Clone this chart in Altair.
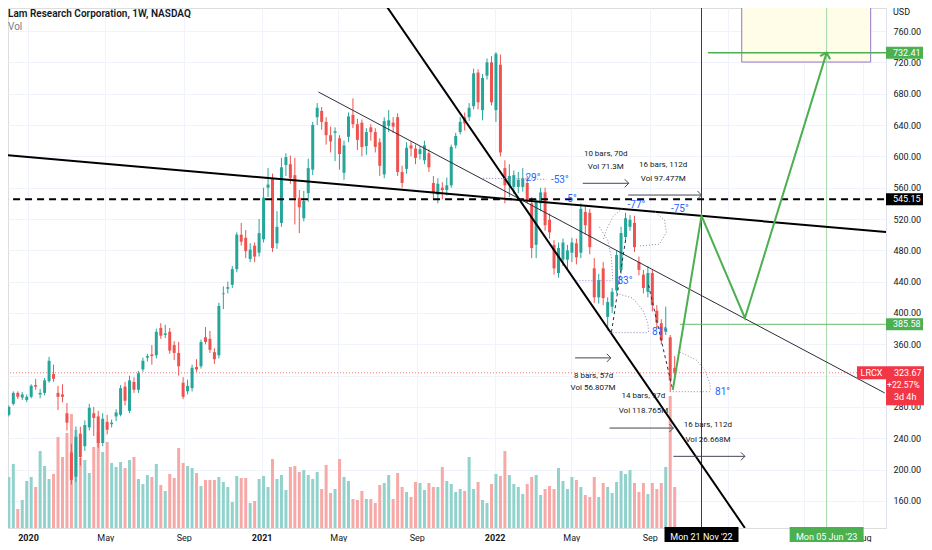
import altair as alt
import pandas as pd

# ---------------- values ----------------
FIRST_WEEK = "2019-11-18"
opens = [265,266,270,284,298,292,289,293,308,296,
         298,313,322,298,296,272,222,191,246,230,
         254,272,268,234,261,258,268,270,306,275,
         312,302,328,343,347,346,381,372,376,359,
         349,311,300,304,331,332,369,367,350,346,
         424,431,436,456,500,496,469,486,477,494,
         560,571,489,515,589,590,576,547,521,553,
         583,650,658,644,627,630,623,579,625,653,
         641,643,613,637,631,618,577,639,643,650,
         580,584,614,610,603,595,604,566,551,560,
         557,563,614,631,650,650,664,707,659,703,
         720,659,717,585,563,561,561,561,566,540,
         487,540,554,519,487,451,468,468,477,489,
         477,529,528,457,420,457,395,408,429,455,
         497,510,515,465,449,427,451,403,387,376,
         369,330]
highs = [273,272,282,300,300,299,296,309,316,303,
         317,344,334,307,309,285,233,255,255,263,
         284,280,275,272,270,264,277,308,312,320,
         318,326,343,348,359,380,387,385,381,364,
         363,318,315,334,341,366,382,377,355,413,
         434,440,460,503,515,506,489,490,520,560,
         585,578,530,598,604,601,598,557,556,597,
         644,668,663,650,638,637,627,620,656,674,
         648,647,636,641,636,623,650,659,650,655,
         588,618,619,615,613,620,609,575,572,567,
         573,615,630,650,656,668,712,711,705,725,
         728,733,730,595,590,582,580,585,575,548,
         546,560,560,527,493,490,495,487,496,495,
         540,536,533,470,450,465,420,432,480,510,
         528,525,524,472,455,460,455,410,392,408,
         372,345]
lows = [262,263,268,282,290,289,286,291,302,291,
        295,311,312,276,286,250,181,184,205,224,
        250,243,228,230,245,254,262,268,282,272,
        298,298,325,338,334,342,367,368,348,340,
        320,290,296,300,325,329,360,349,335,342,
        405,425,432,452,486,470,465,465,472,490,
        548,478,482,510,575,565,513,502,517,542,
        576,640,634,615,605,594,583,570,618,636,
        608,600,602,620,605,575,572,631,630,575,
        560,578,600,590,596,590,580,545,540,545,
        550,560,610,628,633,645,660,660,646,698,
        665,644,600,540,548,552,553,555,540,470,
        470,530,505,495,449,445,460,455,465,462,
        470,500,475,413,412,410,378,400,425,450,
        490,505,478,448,425,420,402,380,360,372,
        299,318]
closes = [270,270,280,298,293,296,293,307,306,298,
          314,339,316,293,293,260,187,242,216,257,
          279,266,234,265,251,260,273,304,288,314,
          302,323,339,345,345,376,371,374,352,349,
          332,293,307,330,328,363,363,353,341,409,
          425,433,456,500,491,479,481,472,502,547,
          564,483,510,586,599,572,547,535,543,585,
          640,662,644,627,619,632,603,614,651,641,
          621,612,631,631,612,588,645,646,638,580,
          566,611,610,598,609,614,586,553,565,557,
          563,612,626,644,642,662,706,669,700,720,
          669,731,605,563,575,576,570,572,544,483,
          542,554,512,503,457,483,490,480,490,471,
          533,512,484,420,442,419,414,427,474,502,
          521,519,484,455,432,451,410,388,365,380,
          314,323.67]
volumes_m = [3.5,4.4,5.1,6.4,1.9,2.8,4.7,5.1,4.1,7.7,
             6.2,4.9,5.4,9.1,7.1,9.5,11.4,9.8,7.0,6.8,
             5.5,8.1,9.6,7.6,8.6,6.5,6.1,6.6,6.0,6.8,
             7.1,4.9,4.4,5.3,5.1,6.4,4.3,3.7,5.4,5.0,
             8.0,6.5,6.2,6.0,5.5,4.2,4.8,4.8,4.8,5.1,
             4.6,4.1,2.6,5.2,5.0,5.0,2.5,2.7,4.9,5.2,
             4.1,6.9,4.9,5.3,3.8,6.1,6.2,5.6,5.8,5.3,
             4.9,5.6,3.9,6.3,3.5,3.9,6.9,5.1,4.7,2.9,
             2.8,3.7,2.9,2.9,2.5,4.3,4.5,5.3,2.9,5.5,
             4.1,3.6,3.1,4.6,4.5,3.8,4.5,4.1,4.1,6.1,
             4.7,4.4,3.6,3.9,3.7,7.1,3.9,4.6,2.8,2.5,
             4.4,5.4,5.2,7.7,5.3,4.4,4.1,3.4,4.4,5.1,
             5.3,3.3,3.9,4.2,3.9,6.0,4.7,3.9,5.1,4.8,
             4.1,3.3,3.1,5.1,3.1,4.5,4.1,3.5,4.6,5.7,
             5.4,5.8,4.5,3.6,4.5,3.4,4.5,3.9,4.5,6.1,
             13.2,4.1]

LAST_PRICE = 323.67
LEVEL_545 = 545.15
TARGET_HIGH = 732.41
TARGET_LOW = 385.58
price_ticks = [160, 200, 240, 280, 320, 360, 400, 440, 480, 520, 560, 600, 640, 680, 720, 760]
date_ticks = [(2020, 1), (2020, 5), (2020, 9), (2021, 1), (2021, 5), (2021, 9),
              (2022, 1), (2022, 5), (2022, 9), (2023, 1), (2023, 5), (2023, 8)]

# drawn trend lines (date, price)
steep_line = [("2021-07-09", 799.6), ("2023-01-28", 125.5)]
flat_line = [("2019-11-18", 602.3), ("2023-09-06", 503.4)]
thin_line = [("2021-03-31", 682.1), ("2023-09-04", 297.9)]
green_path = [("2022-10-07", 301.7), ("2022-11-21", 524.0), ("2023-01-28", 393.6), ("2023-06-05", TARGET_HIGH)]
target_box = {"date": "2023-01-23", "date2": "2023-08-13", "price": 720.4, "price2": 850.0}

dotted_gray = {
    "arcA": [("2022-10-18", 350.2), ("2022-11-13", 340.0), ("2022-11-26", 327.2), ("2022-12-04", 310.6), ("2022-12-05", 300.4)],
    "baseA": [("2022-10-07", 299.5), ("2022-12-05", 299.5)],
    "arcD": [("2022-07-20", 533.7), ("2022-07-05", 522.9), ("2022-06-25", 506.0), ("2022-06-20", 493.2)],
    "arcE": [("2022-09-06", 531.5), ("2022-09-24", 518.7), ("2022-09-27", 502.9), ("2022-09-16", 487.8), ("2022-08-16", 485.6)],
}
dotted_purple = {
    "arcB": [("2022-07-11", 425.1), ("2022-08-05", 419.1), ("2022-08-21", 403.8), ("2022-08-29", 387.2), ("2022-08-30", 376.1)],
    "baseB": [("2022-06-30", 374.9), ("2022-08-30", 374.9)],
    "arcC": [("2022-06-14", 509.8), ("2022-06-27", 493.2), ("2022-07-03", 470.2), ("2022-07-05", 442.1)],
    "baseC": [("2022-05-09", 441.2), ("2022-07-05", 441.2)],
    "base29": [("2021-12-14", 572.0), ("2022-03-23", 570.7)],
}
dashed_dark = {
    "ang81": [("2022-08-30", 435.7), ("2022-10-07", 301.7)],
    "ang83": [("2022-07-03", 375.8), ("2022-07-25", 493.2)],
}

angle_labels = [("2022-03-02", 572.0, "29°"), ("2022-04-13", 569.8, "-53°"), ("2022-04-30", 545.5, "-5°"),
                ("2022-08-11", 537.9, "-77°"), ("2022-10-18", 532.8, "-75°"), ("2022-07-24", 441.2, "83°"),
                ("2022-09-16", 375.4, "81°"), ("2022-12-24", 299.5, "81°")]
range_labels = [("2022-06-24", 603.0, "10 bars, 70d"), ("2022-06-24", 586.4, "Vol 71.3M"),
                ("2022-09-22", 588.9, "16 bars, 112d"), ("2022-09-22", 571.1, "Vol 97.477M"),
                ("2022-06-05", 320.0, "8 bars, 57d"), ("2022-06-04", 304.6, "Vol 56.807M"),
                ("2022-08-22", 294.0, "14 bars, 97d"), ("2022-08-22", 274.9, "Vol 118.765M"),
                ("2022-12-01", 257.0, "16 bars, 112d"), ("2022-12-01", 238.3, "Vol 26.668M")]
range_arrows = [("2022-05-19", "2022-07-30", 565.6), ("2022-07-29", "2022-11-21", 550.6),
                ("2022-05-07", "2022-07-02", 342.7), ("2022-06-30", "2022-10-08", 253.1),
                ("2022-10-08", "2023-01-28", 217.0)]
price_flags = [(TARGET_HIGH, "732.41", "#4caf50"), (LEVEL_545, "545.15", "#000000"), (TARGET_LOW, "385.58", "#4caf50")]
date_flags = [("2022-11-21", "Mon 21 Nov '22", "#000000"), ("2023-06-05", "Mon 05 Jun '23", "#4caf50")]
last_box_lines = [("323.67", 0, 8, 9), ("+22.57%", 12.5, 1, 8.6), ("3d 4h", 24.5, 8, 9)]

# ---------------- frames ----------------
week_dates = pd.date_range(FIRST_WEEK, periods=len(opens), freq="7D").strftime("%Y-%m-%d")
candles = pd.DataFrame(dict(date=week_dates, open=opens, high=highs, low=lows, close=closes, vol=volumes_m))
up = candles["close"] >= candles["open"]
candles["c"] = up.map({True: "#26a69a", False: "#ef5350"})
candles["vc"] = up.map({True: "#92d2cc", False: "#f7a9a7"})


def path_frame(groups):
    rows = []
    for name, pts in groups.items():
        for k, (d, p) in enumerate(pts):
            rows.append({"g": name, "k": k, "date": d, "price": p})
    return pd.DataFrame(rows)


W, H = 878, 520
FONT = "Roboto"
INK = "#131722"

x_scale = alt.Scale(type="utc", padding=0, nice=False,
                    domain=[alt.DateTime(year=2019, month=11, date=30, hours=16, utc=True),
                            alt.DateTime(year=2023, month=9, date=6, utc=True)])
y_scale = alt.Scale(domain=[125.5, 789.4], nice=False, zero=False, padding=0)
v_scale = alt.Scale(domain=[0, 52], nice=False, zero=True, padding=0)

x_axis = alt.Axis(
    values=[alt.DateTime(year=y, month=m, date=1, utc=True) for y, m in date_ticks],
    labelExpr="(utcFormat(datum.value, '%Y-%m') == '2023-01' || utcFormat(datum.value, '%Y-%m') == '2023-05') ? '' : (utcmonth(datum.value) == 0 ? utcFormat(datum.value, '%Y') : utcFormat(datum.value, '%b'))",
    labelFontWeight={"condition": {"test": "utcmonth(datum.value) == 0", "value": "bold"}, "value": "normal"},
    grid=True, gridColor="#f0f3fa", ticks=False, domain=False, labelFontSize=9, labelColor=INK,
    labelFont=FONT, labelPadding=5, labelOverlap=False, labelFlush=False, title=None, zindex=0)
y_axis = alt.Axis(orient="right", values=price_ticks, format=".2f",
                  labelExpr="datum.value == 320 ? '' : format(datum.value, '.2f')",
                  grid=True, gridColor="#f0f3fa",
                  ticks=False, domain=True, domainColor="#e0e3eb", labelFontSize=9, labelColor=INK,
                  labelFont=FONT, labelPadding=7, title=None, zindex=0)


def xe(f="date"):
    return alt.X(f"{f}:T", scale=x_scale, axis=x_axis, title=None)


def ye(f="price"):
    return alt.Y(f"{f}:Q", scale=y_scale, axis=y_axis, title=None)


def hline(price, d1, d2, **kw):
    df = pd.DataFrame({"date": [d1], "date2": [d2], "price": [price]})
    return alt.Chart(df).mark_rule(clip=True, **kw).encode(x=xe(), x2=alt.X2("date2"), y=ye())


def vline(d, **kw):
    return alt.Chart(pd.DataFrame({"date": [d]})).mark_rule(**kw).encode(x=xe())


def seg_line(pts, **kw):
    df = pd.DataFrame(pts, columns=["date", "price"])
    return alt.Chart(df).mark_line(clip=True, **kw).encode(x=xe(), y=ye())


def paths(groups, **kw):
    return alt.Chart(path_frame(groups)).mark_line(clip=True, **kw).encode(
        x=xe(), y=ye(), detail="g:N", order="k:Q")


layers = []
layers.append(alt.Chart(pd.DataFrame([target_box])).mark_rect(
    fill="#fffde7", stroke="#9575cd", strokeWidth=1, clip=True).encode(
    x=xe(), x2=alt.X2("date2"), y=ye(), y2=alt.Y2("price2")))
layers.append(hline(LAST_PRICE, "2019-11-01", "2023-10-01", color="#ef5350", strokeDash=[1, 2], strokeWidth=1, opacity=0.8))
layers.append(vline("2022-11-21", color="#3a3d45", strokeWidth=1))
layers.append(vline("2023-06-05", color="#a5d6a7", strokeWidth=1))
layers.append(hline(TARGET_HIGH, "2022-12-01", "2023-10-01", color="#4caf50", strokeWidth=1.5))
layers.append(hline(TARGET_LOW, "2022-10-18", "2023-10-01", color="#66bb6a", strokeWidth=1))

base = alt.Chart(candles)
layers.append(base.mark_rule(strokeWidth=1).encode(x=xe(), y=ye("low"), y2=alt.Y2("high"),
                                                    color=alt.Color("c:N", scale=None)))
layers.append(base.mark_bar(size=3).encode(x=xe(), y=ye("open"), y2=alt.Y2("close"),
                                           color=alt.Color("c:N", scale=None)))

layers.append(hline(LEVEL_545, "2019-11-01", "2023-10-01", color="#000000", strokeDash=[7, 5], strokeWidth=2))
layers.append(seg_line(flat_line, color="#000000", strokeWidth=2))
layers.append(seg_line(thin_line, color="#2a2e39", strokeWidth=1))
layers.append(seg_line(steep_line, color="#000000", strokeWidth=2))

layers.append(paths(dotted_gray, color="#8a8d97", strokeWidth=1, strokeDash=[1, 2]))
layers.append(paths(dotted_purple, color="#8e7cc3", strokeWidth=1, strokeDash=[1, 2]))
layers.append(paths(dashed_dark, color="#2a2e39", strokeWidth=1, strokeDash=[3, 3]))

layers.append(seg_line(green_path, color="#4caf50", strokeWidth=2))
layers.append(alt.Chart(pd.DataFrame({"date": ["2023-06-05"], "price": [TARGET_HIGH]})).mark_point(
    shape="M-1,-1L0,0L-1,1", filled=False, size=110, strokeWidth=2, color="#4caf50", angle=287, opacity=1).encode(
    x=xe(), y=ye()))

arrows = pd.DataFrame(range_arrows, columns=["date", "date2", "price"])
layers.append(alt.Chart(arrows).mark_rule(color="#434651", strokeWidth=1).encode(
    x=xe(), x2=alt.X2("date2"), y=ye()))
layers.append(alt.Chart(arrows).mark_point(
    shape="M-1,-1L0,0L-1,1", filled=False, size=64, strokeWidth=1, color="#434651", opacity=1).encode(
    x=xe("date2"), y=ye()))

layers.append(alt.Chart(pd.DataFrame(range_labels, columns=["date", "price", "t"])).mark_text(
    font=FONT, fontSize=8, color=INK, align="center", baseline="middle").encode(x=xe(), y=ye(), text="t:N"))
layers.append(alt.Chart(pd.DataFrame(angle_labels, columns=["date", "price", "t"])).mark_text(
    font=FONT, fontSize=10, color="#2962ff", align="center", baseline="middle").encode(x=xe(), y=ye(), text="t:N"))

# price-scale flags
flags = pd.DataFrame(price_flags, columns=["price", "t", "bg"])
layers.append(alt.Chart(flags).mark_bar(orient="horizontal", size=12).encode(
    x=alt.value(W), x2=alt.value(W + 37), y=ye(), color=alt.Color("bg:N", scale=None)))
layers.append(alt.Chart(flags).mark_text(font=FONT, fontSize=9, color="#ffffff", align="left", baseline="middle").encode(
    x=alt.value(W + 7), y=ye(), text="t:N"))

last_df = pd.DataFrame({"price": [LAST_PRICE]})
layers.append(alt.Chart(last_df).mark_bar(orient="horizontal", size=13, color="#f23645").encode(
    x=alt.value(W - 29), x2=alt.value(W), y=ye()))
layers.append(alt.Chart(last_df).mark_bar(orient="horizontal", size=39, yOffset=13, color="#f23645").encode(
    x=alt.value(W), x2=alt.value(W + 44), y=ye()))
layers.append(alt.Chart(last_df).mark_text(font=FONT, fontSize=9, color="#ffffff", align="center", baseline="middle").encode(
    x=alt.value(W - 14.5), y=ye(), text=alt.value("LRCX")))
for txt, off, dx, fs in last_box_lines:
    layers.append(alt.Chart(last_df).mark_text(font=FONT, fontSize=fs, color="#ffffff", align="left",
                                                baseline="middle", dy=off).encode(
        x=alt.value(W + dx), y=ye(), text=alt.value(txt)))

# time-scale flags
dflags = pd.DataFrame(date_flags, columns=["date", "t", "bg"])
layers.append(alt.Chart(dflags).mark_bar(size=74).encode(
    x=xe(), y=alt.value(H - 1), y2=alt.value(H + 19), color=alt.Color("bg:N", scale=None)))
layers.append(alt.Chart(dflags).mark_text(font=FONT, fontSize=9, color="#ffffff", align="center", baseline="middle").encode(
    x=xe(), y=alt.value(H + 9), text="t:N"))

# header
hdr = pd.DataFrame({"t": ["Lam Research Corporation, 1W, NASDAQ"]})
layers.append(alt.Chart(hdr).mark_text(font=FONT, fontSize=10, fontWeight=600, color=INK, align="left",
                                       baseline="alphabetic").encode(x=alt.value(0), y=alt.value(9), text="t:N"))
layers.append(alt.Chart(hdr).mark_text(font=FONT, fontSize=10, color="#787b86", align="left",
                                       baseline="alphabetic").encode(x=alt.value(0), y=alt.value(21.5), text=alt.value("Vol")))
layers.append(alt.Chart(hdr).mark_text(font=FONT, fontSize=9, color=INK, align="left",
                                       baseline="top").encode(x=alt.value(W + 7), y=alt.value(0), text=alt.value("USD")))

price_layer = alt.layer(*layers)

vol_layer = alt.Chart(candles).mark_bar(size=3).encode(
    x=xe(), y=alt.Y("vol:Q", scale=v_scale, axis=None, title=None),
    color=alt.Color("vc:N", scale=None))

# whole page = 8px margin + 916 x 534 svg + 8px margin -> fits 932 x 550 without scrolling
chart = alt.layer(vol_layer, price_layer).resolve_scale(y="independent").properties(
    width=W, height=H,
    autosize=alt.AutoSizeParams(type="none"),
    padding={"left": 0, "top": 0, "right": 38, "bottom": 14},
).configure_view(stroke=None).configure(font=FONT, background="#ffffff")

chart.save("out.html", embed_options={"renderer": "svg", "actions": False})
